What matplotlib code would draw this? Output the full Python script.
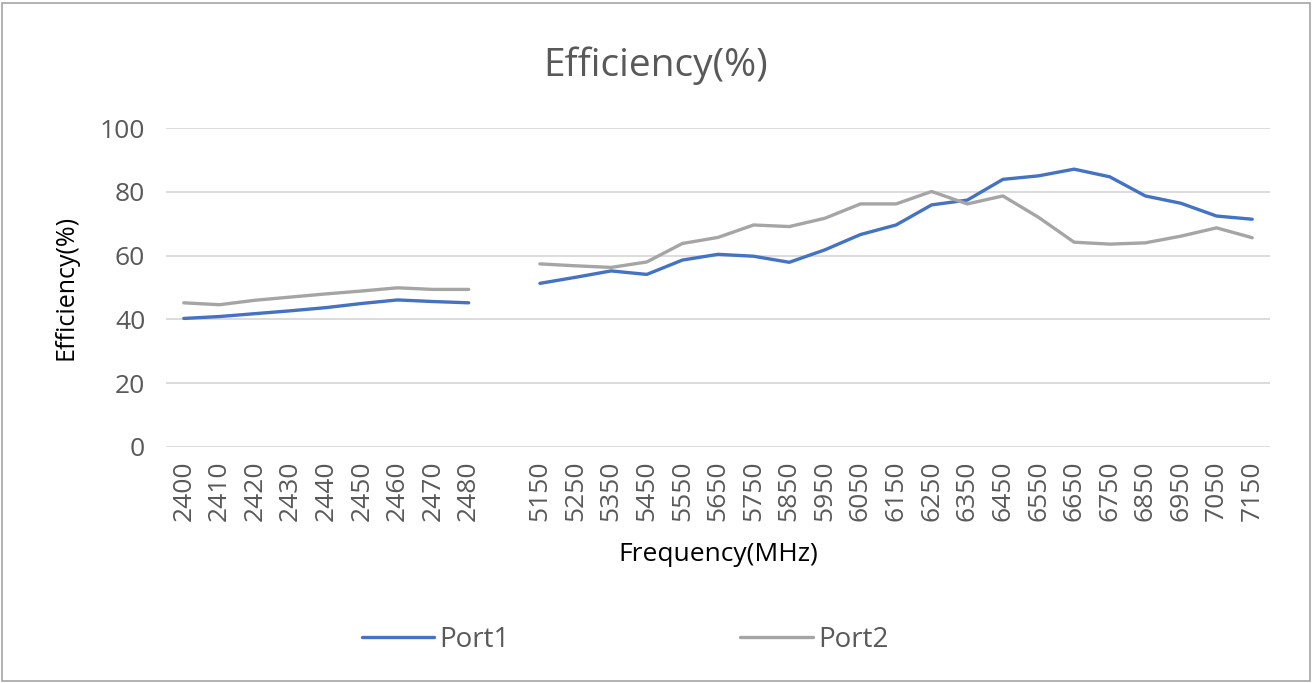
import matplotlib
matplotlib.use("Agg")
import matplotlib.pyplot as plt
from matplotlib.patches import Rectangle
import numpy as np

plt.rcParams['font.family'] = ['Open Sans', 'DejaVu Sans']

categories = ["2400", "2410", "2420", "2430", "2440", "2450", "2460", "2470", "2480", "",
              "5150", "5250", "5350", "5450", "5550", "5650", "5750", "5850", "5950", "6050",
              "6150", "6250", "6350", "6450", "6550", "6650", "6750", "6850", "6950", "7050", "7150"]
port1 = [40.3, 40.9, 41.8, 42.7, 43.7, 45.0, 46.1, 45.6, 45.2, np.nan,
         51.3, 53.2, 55.2, 54.1, 58.6, 60.4, 59.8, 57.9, 61.8, 66.6,
         69.6, 75.9, 77.4, 83.9, 85.0, 87.1, 84.7, 78.7, 76.4, 72.4, 71.4]
port2 = [45.2, 44.6, 46.0, 47.0, 48.0, 48.9, 49.9, 49.4, 49.4, np.nan,
         57.4, 56.8, 56.3, 58.0, 63.8, 65.7, 69.6, 69.1, 71.7, 76.2,
         76.2, 80.1, 76.2, 78.7, 72.0, 64.2, 63.6, 64.0, 66.1, 68.7, 65.6]
series_names = ["Port1", "Port2"]
yticks = [0, 20, 40, 60, 80, 100]

W, H = 1312, 683
fig = plt.figure(figsize=(W / 100, H / 100), dpi=100)
ax = fig.add_axes([166 / W, 1 - 447 / H, (1270 - 166) / W, (447 - 128) / H])

x = np.arange(len(categories))
l1, = ax.plot(x, port1, color='#4472C4', lw=2.4, solid_capstyle='round', solid_joinstyle='round')
l2, = ax.plot(x, port2, color='#A5A5A5', lw=2.4, solid_capstyle='round', solid_joinstyle='round')

ax.set_xlim(-0.5, len(categories) - 0.5)
ax.set_ylim(0, 100)
ax.set_yticks(yticks)
ax.set_xticks(x)
ax.set_xticklabels(categories, rotation=90)
ax.tick_params(axis='both', length=0, labelsize=19, labelcolor='#595959')
ax.tick_params(axis='x', pad=10)
ax.tick_params(axis='y', pad=15)
ax.grid(axis='y', color='#D9D9D9', lw=1.3)
ax.set_axisbelow(True)
for s in ax.spines.values():
    s.set_visible(False)

fig.text(656 / W, 1 - 66 / H, "Efficiency(%)", fontsize=28, color='#595959', ha='center', va='center')
ax.set_ylabel("Efficiency(%)", fontsize=18, color='black', labelpad=15)
ax.set_xlabel("Frequency(MHz)", fontsize=19, color='black', labelpad=15)

fig.legend([l1, l2], series_names, loc='center', bbox_to_anchor=(625 / W, 1 - 640 / H),
           ncol=2, frameon=False, fontsize=20, handlelength=2.6, columnspacing=8.3,
           handletextpad=0.2, labelcolor='#595959')

fig.patches.append(Rectangle((1.5 / W, 2.5 / H), (W - 4) / W, (H - 5) / H, transform=fig.transFigure,
                             fill=False, edgecolor='#A6A6A6', lw=1.2))

fig.savefig("out.png", dpi=100)
